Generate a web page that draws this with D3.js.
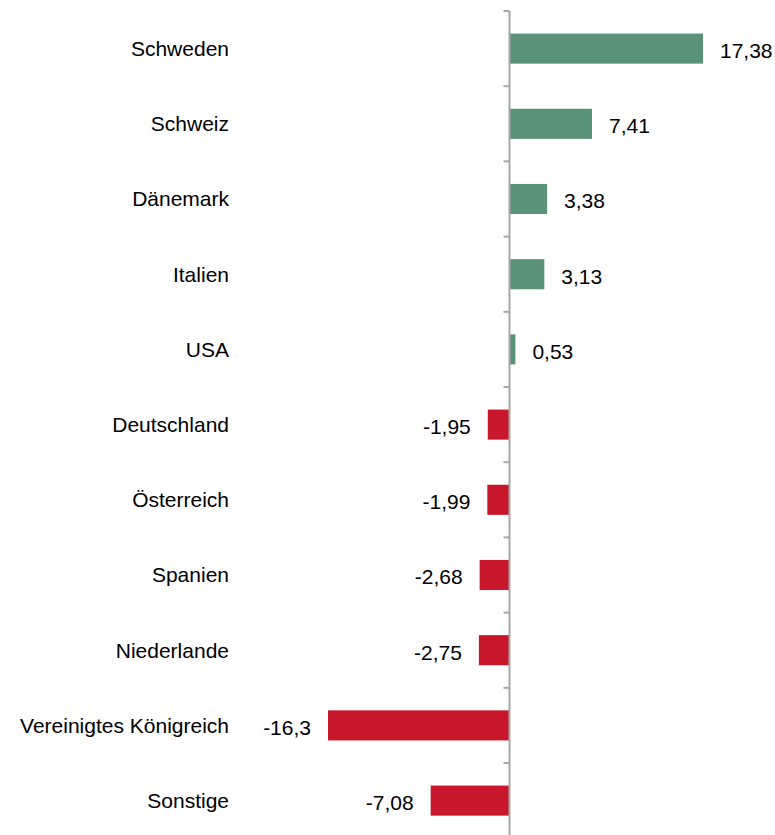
<!DOCTYPE html>
<html>
<head>
<meta charset="utf-8">
<script src="https://cdn.jsdelivr.net/npm/d3@7"></script>
<style>
  body { margin: 0; background: #fff; }
  text { font-family: "Liberation Sans", Arial, sans-serif; font-size: 21px; fill: #000; }
</style>
</head>
<body>
<div id="app"></div>
<script>
const categories = ["Schweden", "Schweiz", "Dänemark", "Italien", "USA", "Deutschland",
  "Österreich", "Spanien", "Niederlande", "Vereinigtes Königreich", "Sonstige"];
const values = [17.38, 7.41, 3.38, 3.13, 0.53, -1.95, -1.99, -2.68, -2.75, -16.3, -7.08];

const w = 775, h = 835;
const data = categories.map((c, i) => ({ name: c, value: values[i] }));

const svg = d3.select("#app").append("svg")
  .attr("width", w)
  .attr("height", h);

const xScale = d3.scaleLinear()
  .domain([-16.3, 17.38])
  .range([328, 703]);

const yScale = d3.scaleBand()
  .domain(categories)
  .range([11, 11 + 75.2 * categories.length])
  .paddingInner(0.6)
  .paddingOuter(0.3);

const step = yScale.step();
const x0 = xScale(0);

// bars
svg.selectAll(".bar")
  .data(data)
  .enter()
  .append("rect")
  .attr("class", "bar")
  .attr("x", d => Math.min(xScale(d.value), x0))
  .attr("y", d => yScale(d.name))
  .attr("width", d => Math.abs(xScale(d.value) - x0))
  .attr("height", yScale.bandwidth())
  .attr("fill", d => d.value >= 0 ? "#5a9377" : "#c8172a");

// axis line with ticks at category boundaries
const axisG = svg.append("g").attr("id", "y-axis");
axisG.append("line")
  .attr("x1", x0).attr("x2", x0)
  .attr("y1", 11).attr("y2", h)
  .attr("stroke", "#a6a6a6")
  .attr("stroke-width", 2);
axisG.selectAll(".tick")
  .data(d3.range(categories.length + 1))
  .enter()
  .append("line")
  .attr("class", "tick")
  .attr("x1", x0 - 6).attr("x2", x0)
  .attr("y1", i => 11 + i * step)
  .attr("y2", i => 11 + i * step)
  .attr("stroke", "#a6a6a6")
  .attr("stroke-width", 2);

// category labels
svg.selectAll(".cat")
  .data(data)
  .enter()
  .append("text")
  .attr("class", "cat")
  .attr("x", 229)
  .attr("y", d => yScale(d.name) + yScale.bandwidth() / 2)
  .attr("dy", "0.35em")
  .style("text-anchor", "end")
  .text(d => d.name);

// value labels
svg.selectAll(".val")
  .data(data)
  .enter()
  .append("text")
  .attr("class", "val")
  .attr("x", d => d.value >= 0 ? xScale(d.value) + 17 : xScale(d.value) - 17)
  .attr("y", d => yScale(d.name) + yScale.bandwidth() / 2 + 2)
  .attr("dy", "0.35em")
  .style("text-anchor", d => d.value >= 0 ? "start" : "end")
  .text(d => String(d.value).replace(".", ","));
</script>
</body>
</html>
